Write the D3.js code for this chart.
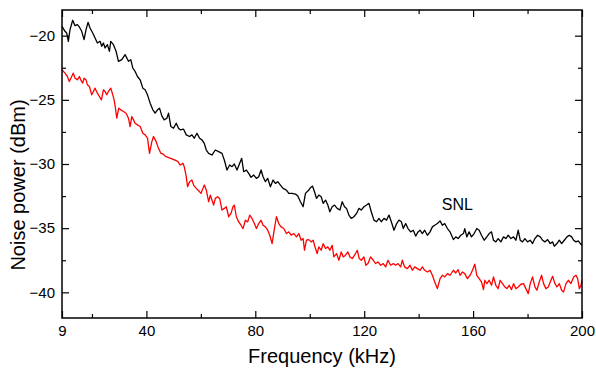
<!DOCTYPE html>
<html>
<head>
<meta charset="utf-8">
<style>
  body { margin: 0; background: #fff; }
  svg text { font-family: Arial, "Liberation Sans", sans-serif; fill: #000; }
</style>
</head>
<body>
<svg id="chart" width="596" height="372"></svg>
<script src="https://cdn.jsdelivr.net/npm/d3@7"></script>
<script>
    // black trace (SNL)
    const snlFreq = [9.0, 10.1, 10.72, 11.33, 11.94, 12.93, 13.78, 14.64, 15.38, 16.24, 17.1, 17.83, 18.57, 19.3, 20.29, 21.14, 22.0, 22.98, 23.6, 24.21,
        24.82, 25.68, 26.42, 26.91, 27.89, 28.87, 29.73, 30.96, 32.18, 33.41, 34.27, 35.01, 35.86, 36.72, 37.7, 38.69, 39.54, 40.4, 41.38, 42.37,
        43.22, 44.08, 44.82, 45.68, 46.54, 47.52, 48.13, 48.99, 49.97, 50.95, 51.81, 52.43, 53.66, 54.64, 55.86, 56.72, 57.58, 58.56, 59.54, 60.4,
        61.26, 62.0, 62.86, 64.08, 65.31, 66.54, 67.76, 68.62, 69.6, 70.59, 71.44, 72.3, 73.28, 74.27, 75.0, 75.74, 76.72, 77.58, 78.44, 79.42,
        80.4, 81.26, 82.12, 82.85, 83.71, 84.57, 85.55, 86.53, 87.39, 88.25, 89.23, 90.21, 91.44, 92.3, 93.52, 94.75, 95.61, 96.59, 97.57, 98.43,
        99.66, 100.27, 101.01, 101.74, 102.48, 103.34, 104.2, 104.93, 105.79, 106.65, 107.38, 108.24, 109.1, 110.08, 111.07, 111.92, 112.78, 113.52, 114.38, 115.24,
        116.22, 117.2, 118.06, 118.92, 119.9, 120.88, 121.74, 122.6, 123.58, 124.56, 125.42, 126.28, 127.26, 128.24, 129.1, 129.96, 130.94, 131.92, 132.78, 133.64,
        134.37, 135.23, 136.09, 137.07, 138.05, 138.91, 139.77, 140.51, 141.36, 142.22, 143.21, 144.19, 145.04, 145.9, 146.88, 147.87, 148.72, 149.58, 150.56, 151.55,
        152.77, 153.63, 154.49, 155.47, 156.45, 156.94, 157.68, 158.54, 159.4, 160.38, 161.36, 162.22, 163.08, 164.06, 165.04, 165.9, 166.76, 167.49, 168.35, 169.21,
        170.19, 171.17, 172.03, 172.89, 173.87, 174.85, 175.71, 176.57, 177.31, 178.16, 179.02, 180.0, 180.99, 181.84, 182.7, 183.68, 184.67, 185.52, 186.38, 187.36,
        188.35, 189.2, 189.82, 190.8, 191.66, 192.52, 193.5, 194.48, 195.34, 196.2, 196.93, 197.79, 198.65, 199.39, 200.0];
    const snlPower = [-19.27, -19.66, -19.79, -20.44, -19.53, -18.8, -19.22, -19.14, -19.32, -19.66, -20.31, -19.53, -18.96, -19.4, -19.79, -20.18, -20.57, -20.44, -20.83, -20.57,
        -20.96, -20.7, -21.22, -20.44, -20.7, -21.22, -22.0, -21.87, -21.48, -22.0, -21.87, -22.53, -22.79, -23.18, -23.44, -24.09, -24.22, -24.61, -25.26, -25.78,
        -26.04, -25.78, -25.65, -26.25, -26.56, -26.43, -26.04, -27.08, -27.21, -26.82, -27.21, -27.34, -27.29, -27.73, -27.86, -27.73, -27.99, -27.6, -27.99, -28.12,
        -28.39, -28.91, -29.17, -29.3, -28.91, -29.04, -29.17, -29.69, -30.47, -30.08, -30.21, -30.0, -30.47, -29.95, -29.56, -30.6, -30.47, -30.73, -31.04, -30.86,
        -31.12, -30.99, -30.47, -30.99, -31.38, -31.12, -31.77, -31.25, -31.51, -31.38, -31.64, -31.9, -32.03, -32.29, -32.29, -32.34, -32.5, -32.94, -33.33, -32.29,
        -32.03, -31.85, -31.72, -32.16, -32.68, -32.42, -32.55, -33.07, -32.81, -33.2, -33.72, -33.33, -33.2, -33.46, -33.59, -32.94, -33.33, -33.46, -33.98, -34.24,
        -34.11, -33.85, -33.46, -33.59, -33.33, -33.2, -33.07, -33.72, -34.37, -34.5, -34.24, -34.5, -34.24, -34.37, -33.98, -34.5, -35.16, -34.64, -34.37, -34.5,
        -35.03, -34.64, -35.03, -35.29, -35.16, -35.62, -35.29, -35.16, -35.42, -35.16, -35.55, -35.29, -34.9, -34.77, -34.64, -34.43, -34.77, -34.64, -35.03, -35.29,
        -35.89, -35.68, -35.81, -35.55, -35.42, -35.03, -35.68, -35.29, -35.68, -35.42, -35.03, -35.16, -35.55, -35.94, -35.68, -35.42, -35.29, -35.94, -36.07, -35.81,
        -36.07, -35.68, -35.81, -35.55, -35.81, -35.68, -35.94, -35.16, -35.94, -36.07, -35.81, -36.07, -35.94, -36.2, -35.81, -35.55, -35.68, -35.94, -36.07, -35.89,
        -36.2, -36.07, -36.41, -36.2, -35.94, -36.2, -35.94, -35.68, -35.55, -35.68, -35.94, -36.07, -35.99, -36.2, -36.33];

    // red trace
    const sqzFreq = [9.0, 10.1, 10.96, 11.7, 12.56, 13.17, 13.78, 14.64, 15.38, 15.87, 16.61, 17.1, 17.83, 18.32, 19.06, 19.92, 20.53, 21.14, 22.0, 22.74,
        23.47, 24.21, 24.82, 25.44, 26.05, 26.91, 27.65, 28.14, 28.63, 29.12, 29.85, 30.59, 31.57, 32.55, 33.41, 34.02, 34.64, 35.25, 35.86, 36.72,
        37.7, 38.69, 39.54, 40.4, 41.14, 42.0, 42.61, 43.59, 44.45, 45.31, 46.05, 47.0, 48.2, 49.4, 50.5, 51.5, 52.43, 53.41, 53.9, 54.64,
        55.13, 55.86, 56.72, 57.34, 58.32, 59.18, 60.04, 60.77, 61.26, 62.0, 62.86, 63.47, 64.08, 64.7, 65.31, 66.17, 66.9, 67.76, 68.62, 69.36,
        70.22, 71.08, 71.81, 72.3, 73.04, 73.9, 74.76, 75.49, 76.35, 77.21, 77.95, 78.8, 79.66, 80.4, 81.26, 82.12, 82.85, 83.71, 84.57, 85.31,
        86.16, 87.02, 87.76, 88.62, 89.48, 90.46, 91.44, 92.3, 93.16, 94.14, 95.12, 95.98, 96.84, 97.57, 98.06, 98.8, 99.66, 100.52, 101.25, 102.11,
        102.72, 103.34, 104.2, 104.93, 105.79, 106.65, 107.38, 108.24, 108.86, 109.84, 110.7, 111.56, 112.29, 113.15, 114.01, 114.75, 115.6, 116.46, 117.44, 118.18,
        118.92, 119.9, 120.63, 121.37, 122.35, 123.33, 124.19, 125.05, 126.03, 127.01, 127.87, 128.73, 129.71, 130.69, 131.55, 132.41, 133.39, 134.0, 134.86, 135.84,
        136.83, 137.68, 138.54, 139.52, 140.51, 141.36, 142.22, 143.21, 144.19, 145.04, 145.9, 146.88, 147.87, 148.72, 149.58, 150.56, 151.55, 152.77, 153.63, 154.49,
        155.22, 156.08, 156.94, 157.92, 158.9, 159.76, 160.62, 161.36, 162.22, 163.08, 163.81, 164.3, 165.04, 165.9, 166.76, 167.49, 168.35, 169.21, 169.95, 170.8,
        171.66, 172.4, 173.26, 174.12, 174.85, 175.71, 176.57, 177.55, 178.53, 179.39, 180.25, 180.99, 181.84, 182.7, 183.44, 184.3, 185.16, 185.89, 186.75, 187.61,
        188.59, 189.2, 190.06, 190.8, 191.66, 192.52, 193.25, 194.11, 194.97, 195.95, 196.93, 197.79, 198.4, 199.02, 199.63, 200.0];
    const sqzPower = [-22.66, -22.92, -23.18, -23.57, -23.18, -22.92, -23.31, -23.44, -23.18, -23.44, -23.7, -23.31, -23.44, -23.83, -23.96, -24.61, -24.35, -24.09, -24.48, -24.74,
        -25.0, -24.22, -24.35, -24.61, -24.35, -24.09, -24.61, -25.0, -25.65, -26.43, -25.65, -25.78, -25.91, -26.04, -26.43, -27.08, -26.3, -26.56, -26.82, -26.95,
        -27.08, -27.6, -27.73, -27.99, -29.17, -28.26, -27.86, -28.26, -28.78, -29.17, -29.22, -29.4, -29.5, -29.6, -29.7, -29.8, -30.08, -29.95, -30.21, -30.99,
        -31.77, -31.38, -31.25, -31.64, -31.9, -32.08, -32.29, -31.9, -31.64, -32.03, -32.94, -32.42, -32.81, -33.2, -32.68, -32.55, -32.68, -33.59, -33.46, -33.33,
        -34.11, -33.85, -33.33, -33.2, -34.11, -34.51, -34.77, -35.03, -34.38, -34.51, -33.98, -34.24, -34.64, -35.03, -34.64, -34.38, -34.77, -34.9, -35.16, -35.55,
        -36.2, -35.03, -34.11, -34.64, -34.9, -35.03, -35.42, -35.29, -35.55, -35.42, -35.68, -35.42, -35.94, -35.81, -36.72, -35.94, -35.89, -36.07, -35.94, -36.59,
        -36.98, -36.46, -36.72, -36.2, -36.59, -36.46, -36.72, -36.33, -37.24, -36.98, -37.5, -36.85, -37.24, -37.11, -36.85, -37.24, -37.37, -37.11, -36.72, -37.37,
        -37.5, -37.24, -37.89, -37.76, -37.24, -37.5, -37.76, -37.63, -37.89, -37.76, -38.02, -37.5, -37.89, -37.76, -37.89, -37.76, -38.02, -37.5, -38.02, -38.15,
        -37.89, -38.28, -38.02, -38.15, -38.28, -38.02, -38.28, -38.41, -38.28, -38.67, -39.19, -39.71, -38.93, -38.67, -38.8, -38.54, -38.67, -38.28, -38.49, -38.23,
        -38.67, -38.41, -38.54, -38.93, -38.67, -38.28, -37.81, -38.67, -38.93, -39.19, -39.79, -39.06, -39.32, -39.06, -39.45, -38.8, -39.45, -39.71, -39.06, -39.32,
        -39.58, -39.71, -39.45, -39.79, -39.32, -39.71, -39.58, -39.37, -39.32, -39.71, -40.1, -39.32, -38.8, -39.58, -39.84, -39.19, -38.67, -39.32, -39.71, -39.58,
        -39.06, -38.75, -39.32, -39.58, -39.32, -39.84, -39.97, -39.32, -39.06, -39.32, -38.8, -38.67, -38.93, -39.71, -39.45, -39.06];

    const xMajor = [9, 40, 80, 120, 160, 200];
    const xMinor = [20, 60, 100, 140, 180];
    const yMajor = [-20, -25, -30, -35, -40];
    const yMinor = [-22.5, -27.5, -32.5, -37.5];

    const width = 596, height = 372;
    const margin = {top: 10, right: 14, bottom: 54, left: 62};
    const w = width - margin.left - margin.right;
    const h = height - margin.top - margin.bottom;

    const svg = d3.select('#chart');
    const g = svg.append('g').attr('transform', `translate(${margin.left},${margin.top})`);

    const x = d3.scaleLinear().domain([9, 200]).range([0, w]);
    const y = d3.scaleLinear().domain([-42, -18]).range([h, 0]);

    function styleAxis(sel) {
        sel.select('.domain').remove();
        sel.selectAll('line').attr('stroke', '#000').attr('stroke-width', 1.2);
        sel.selectAll('text').style('font-size', '15px').attr('fill', '#000');
    }

    // bottom
    g.append('g').attr('transform', `translate(0,${h})`)
        .call(d3.axisBottom(x).tickValues(xMajor).tickSize(-7).tickPadding(7).tickFormat(d3.format('d')))
        .call(styleAxis);
    g.append('g').attr('transform', `translate(0,${h})`)
        .call(d3.axisBottom(x).tickValues(xMinor).tickSize(-4).tickFormat(''))
        .call(styleAxis);
    // top
    g.append('g')
        .call(d3.axisTop(x).tickValues(xMajor).tickSize(-7).tickFormat(''))
        .call(styleAxis);
    g.append('g')
        .call(d3.axisTop(x).tickValues(xMinor).tickSize(-4).tickFormat(''))
        .call(styleAxis);
    // left
    g.append('g')
        .call(d3.axisLeft(y).tickValues(yMajor).tickSize(-7).tickPadding(7))
        .call(styleAxis);
    g.append('g')
        .call(d3.axisLeft(y).tickValues(yMinor).tickSize(-4).tickFormat(''))
        .call(styleAxis);
    // right
    g.append('g').attr('transform', `translate(${w},0)`)
        .call(d3.axisRight(y).tickValues(yMajor).tickSize(-7).tickFormat(''))
        .call(styleAxis);
    g.append('g').attr('transform', `translate(${w},0)`)
        .call(d3.axisRight(y).tickValues(yMinor).tickSize(-4).tickFormat(''))
        .call(styleAxis);

    const line = d3.line()
        .x(d => x(d[0]))
        .y(d => y(d[1]));

    g.append('path')
        .datum(snlFreq.map((f, i) => [f, snlPower[i]]))
        .attr('fill', 'none')
        .attr('stroke', '#000')
        .attr('stroke-width', 1.3)
        .attr('stroke-linejoin', 'round')
        .attr('d', line);

    g.append('path')
        .datum(sqzFreq.map((f, i) => [f, sqzPower[i]]))
        .attr('fill', 'none')
        .attr('stroke', '#ff0000')
        .attr('stroke-width', 1.3)
        .attr('stroke-linejoin', 'round')
        .attr('d', line);

    // frame
    g.append('rect')
        .attr('width', w).attr('height', h)
        .attr('fill', 'none')
        .attr('stroke', '#000')
        .attr('stroke-width', 1.5);

    g.append('text')
        .attr('x', x(148.5))
        .attr('y', y(-33.55))
        .style('font-size', '16px')
        .text('SNL');

    svg.append('text')
        .attr('x', margin.left + w / 2)
        .attr('y', 363)
        .attr('text-anchor', 'middle')
        .style('font-size', '20px')
        .text('Frequency (kHz)');

    svg.append('text')
        .attr('transform', 'translate(25,185) rotate(-90)')
        .attr('text-anchor', 'middle')
        .style('font-size', '20px')
        .text('Noise power (dBm)');
</script>
</body>
</html>
